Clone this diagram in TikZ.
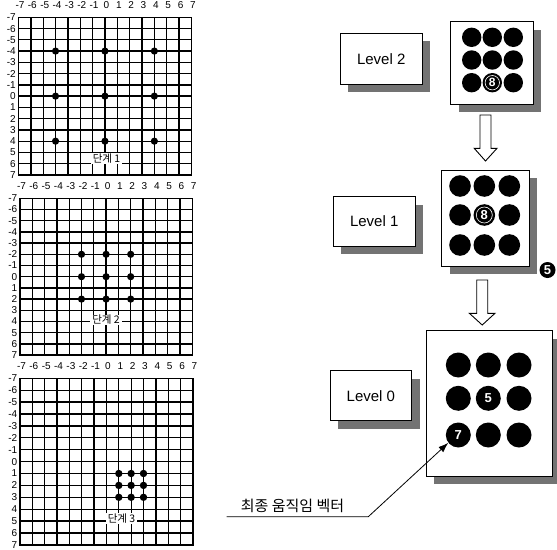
\documentclass[tikz,border=0pt]{standalone}
\usepackage{fontspec}
\setmainfont{Liberation Sans}
\newfontfamily\kr{Noto Sans CJK KR}
\usetikzlibrary{shadows,arrows.meta,calc}

\newcommand\mygrid[5]{% #1 x0, #2 y0, #3 dx, #4 dy, #5 name prefix
  \foreach \i in {0,...,14} {
    \draw[gline] ({#1+\i*#3},#2) -- ({#1+\i*#3},{#2+14*#4});
    \draw[gline] (#1,{#2+\i*#4}) -- ({#1+14*#3},{#2+\i*#4});
    \pgfmathtruncatemacro\v{\i-7}
    \node[axlab] (#5t\i) at ({#1+\i*#3+1.5},{#2-12.5}) {\v};
    \node[axlab, anchor=east] (#5l\i) at ({#1-2.5},{#2+\i*#4}) {\v};
  }}

\begin{document}
\begin{tikzpicture}[x=1pt,y=-1pt,
  gline/.style={line width=1.3pt, line cap=rect},
  axlab/.style={font=\fontsize{10}{11}\selectfont, inner sep=0pt},
  steplab/.style={fill=white, inner xsep=2pt, inner ysep=0.5pt, font=\kr\fontsize{10.5}{11}\selectfont},
  boxbase/.style={draw=black, line width=0.9pt, fill=white, inner sep=0pt,
    drop shadow={shadow xshift=8pt, shadow yshift=-8pt, fill=black!55, opacity=1}},
  lvlbox/.style={boxbase, font=\fontsize{15}{17}\selectfont},
  disc/.style={circle, fill=black, inner sep=0pt, minimum size=#1, text=white,
    font=\bfseries\fontsize{13}{14}\selectfont},
  ringed/.style={path picture={\draw[white, line width=0.6pt] (path picture bounding box.center) circle (#1);}},
  hollow/.style={draw=black, line width=0.9pt, fill=white, line join=miter},
  note/.style={font=\kr\fontsize{15}{16}\selectfont, inner sep=0pt},
]
\useasboundingbox (0,0) rectangle (557,549);

% ---------- left grids ----------
\mygrid{18.5}{17.3}{12.35}{11.26}{ga}
\foreach \a/\b in {-4/-4,0/-4,4/-4,-4/0,0/0,4/0,-4/4,0/4,4/4}
  \fill ({18.5+(\a+7)*12.35},{17.3+(\b+7)*11.26}) circle (3.6);
\node[steplab] (sa) at (106.5,158.3) {단계 1};

\mygrid{20}{198.3}{12.3}{11.2}{gb}
\foreach \a/\b in {-2/-2,0/-2,2/-2,-2/0,0/0,2/0,-2/2,0/2,2/2}
  \fill ({20+(\a+7)*12.3},{198.3+(\b+7)*11.2}) circle (3.6);
\node[steplab] (sb) at (106,320) {단계 2};

\mygrid{20}{378.3}{12.35}{11.9}{gc}
\foreach \a/\b in {1/1,2/1,3/1,1/2,2/2,3/2,1/3,2/3,3/3}
  \fill ({20+(\a+7)*12.35},{378.3+(\b+7)*11.9}) circle (3.7);
\node[steplab] (sc) at (121.5,518.5) {단계 3};

% ---------- level labels ----------
\node[lvlbox, minimum width=82.3pt, minimum height=50.7pt] (lvl2) at (381.2,58.7) {Level 2};
\node[lvlbox, minimum width=81.7pt, minimum height=49.3pt] (lvl1) at (374.2,221.4) {Level 1};
\node[lvlbox, minimum width=81.7pt, minimum height=50pt] (lvl0) at (370.9,395.7) {Level 0};

% ---------- search blocks ----------
\node[boxbase, minimum width=82.6pt, minimum height=82.3pt] (blk2) at (492,62.9) {};
\node[boxbase, minimum width=87.3pt, minimum height=96pt] (blk1) at (485.4,218) {};
\node[boxbase, minimum width=126.3pt, minimum height=145.3pt] (blk0) at (489.2,403.4) {};

% level 2 dots
\node[disc=19.4pt] (b2a) at (471.7,37.3) {};
\node[disc=19.4pt] (b2b) at (492.3,37.3) {};
\node[disc=19.4pt] (b2c) at (513.3,37.3) {};
\node[disc=19.4pt] (b2d) at (471.7,60) {};
\node[disc=19.4pt] (b2e) at (492.3,60) {};
\node[disc=19.4pt] (b2f) at (513.3,60) {};
\node[disc=19.4pt] (b2g) at (471.7,82.7) {};
\node[disc=19.4pt, ringed=7.2pt, font=\bfseries\fontsize{12}{12}\selectfont] (b2h) at (492.3,82.7) {8};
\node[disc=19.4pt] (b2i) at (513.3,82.7) {};

% level 1 dots
\node[disc=21.6pt] (b1a) at (460,186) {};
\node[disc=21.6pt] (b1b) at (484.3,186) {};
\node[disc=21.6pt] (b1c) at (509.3,186) {};
\node[disc=21.6pt] (b1d) at (460,215) {};
\node[disc=21.6pt, ringed=8pt] (b1e) at (484.3,215) {8};
\node[disc=21.6pt] (b1f) at (509.3,215) {};
\node[disc=21.6pt] (b1g) at (460,245) {};
\node[disc=21.6pt] (b1h) at (484.3,245) {};
\node[disc=21.6pt] (b1i) at (509.3,245) {};
\node[disc=16pt] (five) at (547.5,270) {5};

% level 0 dots
\node[disc=25pt] (b0a) at (458.3,365) {};
\node[disc=25pt] (b0b) at (488.3,365) {};
\node[disc=25pt] (b0c) at (519,365) {};
\node[disc=25pt] (b0d) at (458.3,398.3) {};
\node[disc=25pt] (b0e) at (488.3,398.3) {5};
\node[disc=25pt] (b0f) at (519,398.3) {};
\node[disc=25pt] (b0g) at (458.3,435) {7};
\node[disc=25pt] (b0h) at (488.3,435) {};
\node[disc=25pt] (b0i) at (519,435) {};

% ---------- hollow arrows ----------
\draw[hollow] (480,115) -- (491,115) -- (491,148.3) -- (497,148.3) -- (485.5,161)
  -- (474.2,148.3) -- (480,148.3) -- cycle;
\draw[hollow] (476.7,280) -- (487.7,280) -- (487.7,313.3) -- (495,313.3) -- (482.2,325)
  -- (469.4,313.3) -- (476.7,313.3) -- cycle;

% ---------- annotation ----------
\node[note] (fin) at (292.5,506.3) {최종 움직임 벡터};
\coordinate (ulA) at (226.7,516.7);
\coordinate (ulB) at (368.3,516.7);
\draw[line width=0.8pt, -{Latex[length=10pt,width=7pt]}] (ulA) -- (ulB) -- (b0g.218);
\end{tikzpicture}
\end{document}
